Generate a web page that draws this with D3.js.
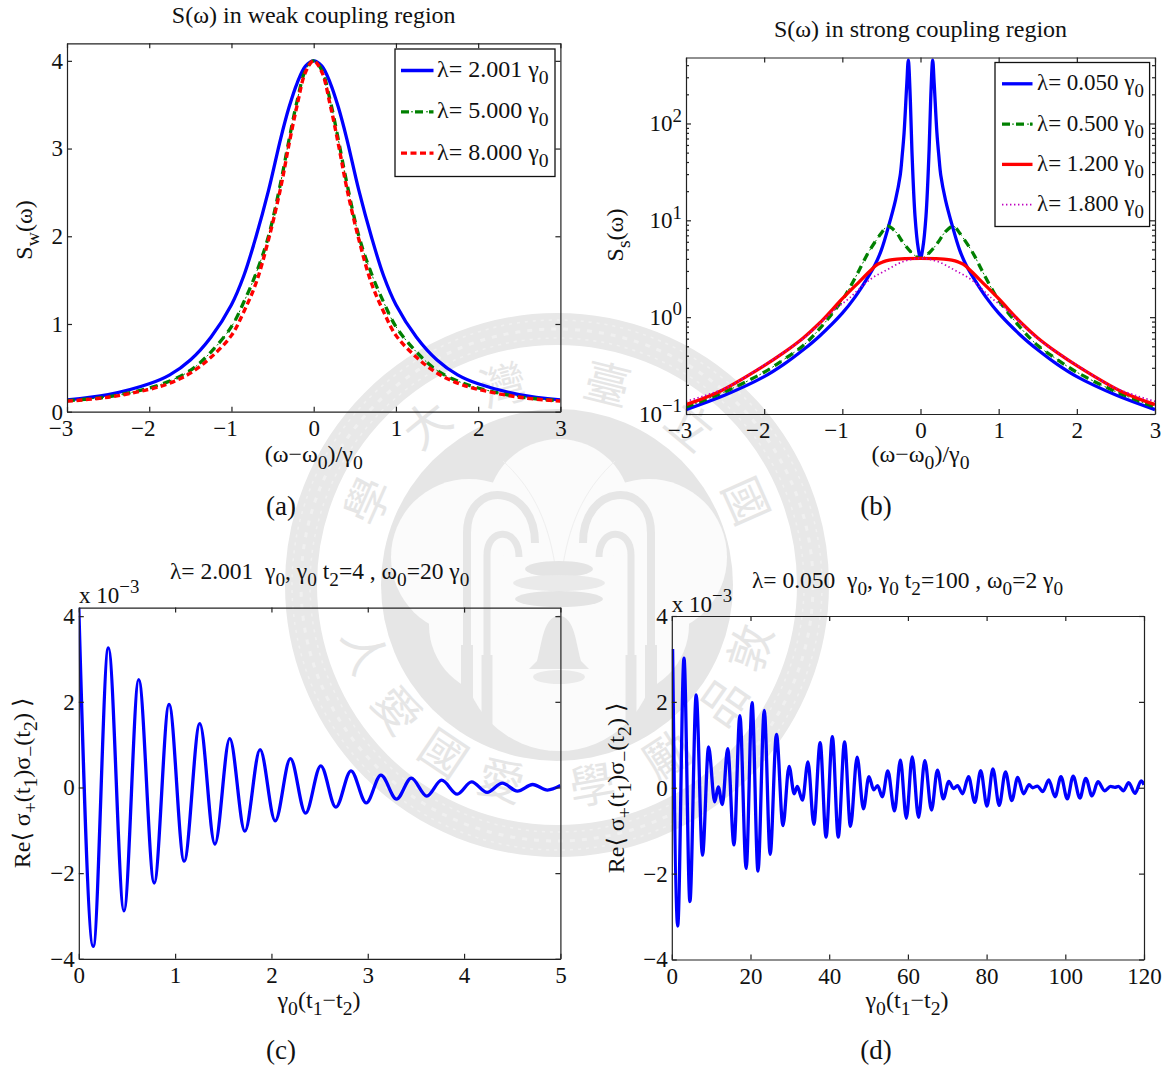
<!DOCTYPE html>
<html>
<head>
<meta charset="utf-8">
<script src="https://cdn.jsdelivr.net/npm/d3@7"></script>
<style>
    html, body { margin: 0; padding: 0; background: #fff; }
    text { font-family: "Liberation Serif", "DejaVu Serif", serif; fill: #111; white-space: pre; }
</style>
</head>
<body>
<svg id="fig" width="1173" height="1072"></svg>
<script>
// panel (a), weak coupling
var weakX = [-3,-2.5,-2,-1.75,-1.5,-1.25,-1,-0.85,-0.7,-0.55,-0.4,-0.3,-0.2,-0.1,0,0.1,0.2,0.3,0.4,0.55,0.7,0.85,1,1.25,1.5,1.75,2,2.5,3];
var weak2001 = [0.135,0.195,0.318,0.42,0.59,0.85,1.22,1.55,2.0,2.52,3.12,3.47,3.75,3.94,4,3.94,3.75,3.47,3.12,2.52,2.0,1.55,1.22,0.85,0.59,0.42,0.318,0.195,0.135];
var weak5000 = [0.125,0.17,0.27,0.35,0.47,0.68,0.97,1.25,1.58,2.0,2.62,3.1,3.55,3.89,4,3.89,3.55,3.1,2.62,2.0,1.58,1.25,0.97,0.68,0.47,0.35,0.27,0.17,0.125];
var weak8000 = [0.12,0.165,0.255,0.325,0.44,0.62,0.87,1.14,1.47,1.96,2.56,3.05,3.5,3.87,4,3.87,3.5,3.05,2.56,1.96,1.47,1.14,0.87,0.62,0.44,0.325,0.255,0.165,0.12];

// panel (b), strong coupling
var strongBlueX = [-3,-2.5,-2,-1.75,-1.5,-1.29,-1,-0.84,-0.69,-0.58,-0.5,-0.41,-0.32,-0.26,-0.235,-0.21,-0.175,-0.156,-0.13,-0.11,-0.07,-0.03,0,0.03,0.07,0.11,0.13,0.156,0.175,0.21,0.235,0.26,0.32,0.41,0.5,0.58,0.69,0.84,1,1.29,1.5,1.75,2,2.5,3];
var strong0050 = [0.111,0.157,0.243,0.325,0.46,0.64,1.1,1.6,2.45,3.5,4.95,8.6,16.2,29,46,80,260,450,174,53,11,5.2,4.05,5.2,11,53,174,450,260,80,46,29,16.2,8.6,4.95,3.5,2.45,1.6,1.1,0.64,0.46,0.325,0.243,0.157,0.111];
var strongGreenX = [-3,-2.5,-2,-1.75,-1.5,-1.29,-1,-0.907,-0.78,-0.67,-0.5,-0.42,-0.32,-0.22,-0.11,-0.03,0,0.03,0.11,0.22,0.32,0.42,0.5,0.67,0.78,0.907,1,1.29,1.5,1.75,2,2.5,3];
var strong0500 = [0.118,0.17,0.27,0.365,0.51,0.76,1.5,2.0,3.1,4.6,7.4,8.7,7.65,5.85,4.6,4.1,4.05,4.1,4.6,5.85,7.65,8.7,7.4,4.6,3.1,2.0,1.5,0.76,0.51,0.365,0.27,0.17,0.118];
var strongRedX = [-3,-2.57,-2,-1.75,-1.5,-1.29,-1,-0.8,-0.652,-0.55,-0.48,-0.4,-0.3,-0.2,0,0.2,0.3,0.4,0.48,0.55,0.652,0.8,1,1.29,1.5,1.75,2,2.57,3];
var strong1200 = [0.125,0.171,0.316,0.43,0.61,0.87,1.55,2.25,2.96,3.5,3.72,3.88,3.98,4.03,4.05,4.03,3.98,3.88,3.72,3.5,2.96,2.25,1.55,0.87,0.61,0.43,0.316,0.171,0.125];
var strongPurpleX = [-3,-2.5,-2,-1.5,-1.25,-1.09,-0.907,-0.652,-0.43,-0.22,0,0.22,0.43,0.652,0.907,1.09,1.25,1.5,2,2.5,3];
var strong1800 = [0.135,0.185,0.32,0.60,0.92,1.21,1.58,2.43,3.08,3.75,4.05,3.75,3.08,2.43,1.58,1.21,0.92,0.60,0.32,0.185,0.135];

// panel (c), extrema of the oscillation
var corrWeakX = [0,0.15,0.307,0.469,0.622,0.783,0.937,1.094,1.256,1.413,1.567,1.724,1.882,2.039,2.197,2.354,2.512,2.669,2.826,2.984,3.137,3.299,3.452,3.613,3.767,3.929,4.078,4.239,4.397,4.554,4.712,4.866,5];
var corrWeakY = [4.2,-3.71,3.26,-2.88,2.52,-2.23,1.94,-1.72,1.49,-1.32,1.14,-1.02,0.885,-0.78,0.676,-0.60,0.505,-0.46,0.39,-0.36,0.29,-0.27,0.22,-0.20,0.17,-0.155,0.13,-0.115,0.10,-0.085,0.07,-0.06,0.045];

// panel (d), extrema of the oscillation
var corrStrongX = [0.2,1.5,3.1,4.6,6.2,7.8,9.35,10.9,11.8,12.85,14.2,15.8,17.3,18.9,20.4,21.9,23.5,25,26.6,28.25,29.8,31.1,31.9,33.2,34.6,36.1,37.7,39.2,40.8,42.3,43.9,45.4,47.1,48.7,50.1,51.3,52.3,53.5,54.9,56.6,58.1,59.6,61.1,62.7,64.3,66,67.5,69,70.4,71.6,72.6,73.9,75.4,77,78.5,80.1,81.6,83.2,84.8,86.4,87.9,89.4,90.8,91.7,92.9,94.3,95.8,97.4,98.9,100.5,102,103.7,105.2,106.8,108.3,110,111.5,112.6,113.5,114.8,116.1,117.7,119.3,120];
var corrStrongY = [3.23,-3.22,3.02,-2.65,2.16,-1.57,0.95,-0.33,0.02,-0.39,0.91,-1.33,1.68,-1.88,1.98,-1.94,1.80,-1.55,1.24,-0.88,0.50,-0.14,0.03,-0.29,0.60,-0.85,1.05,-1.15,1.19,-1.15,1.07,-0.90,0.71,-0.49,0.26,-0.05,0.05,-0.21,0.39,-0.54,0.64,-0.71,0.72,-0.69,0.63,-0.52,0.41,-0.26,0.15,-0.02,0.05,-0.14,0.26,-0.34,0.40,-0.43,0.44,-0.41,0.37,-0.30,0.24,-0.14,0.07,0,0.04,-0.09,0.18,-0.21,0.26,-0.26,0.27,-0.24,0.22,-0.19,0.14,-0.07,0.03,0.01,0.03,-0.07,0.12,-0.13,0.16,0.07];

var specTicks = [-3,-2,-1,0,1,2,3];
var weakYTicks = [0,1,2,3,4];
var strongYTicks = [0.1,1,10,100];
var corrYTicks = [-4,-2,0,2,4];
var corrWeakTicks = [0,1,2,3,4,5];
var corrStrongTicks = [0,20,40,60,80,100,120];

var sealTop = [["國",66],["立",40],["臺",14],["灣",-15],["大",-39],["學",-66]];
var sealBottom = [["敦",108],["品",125],["勵",147],["學",170],["愛",-164],["國",-146],["愛",-128],["人",-109]];

var BLUE = "#0000ff", GREEN = "#008000", RED = "#ff0000", PURPLE = "#bf00bf";
var solidBlue = [{ color: BLUE, width: 3.3 }];
var solidRed = [{ color: RED, width: 3.3 }];
var dashRed = [{ color: RED, width: 3.4, dash: "6 3.5" }];
var dashGreen = [{ color: GREEN, width: 1, dash: "2 3" }, { color: GREEN, width: 3.3, dash: "8 6" }];
var dotPurple = [{ color: PURPLE, width: 1.7, dash: "1.4 2.6" }];

var svg = d3.select("#fig");
svg.append("rect").attr("width", 1173).attr("height", 1072).attr("fill", "#fff");

// little markup: _x is a subscript, ^x a superscript
function rich(sel, str, fs) {
    sel.text(null);
    var re = /([_^])(\{[^}]*\}|.)|([^_^]+)/g, m, back = 0;
    while ((m = re.exec(str)) !== null) {
        var span = sel.append("tspan");
        if (m[3]) {
            span.text(m[3]);
            if (back) span.attr("dy", back);
            back = 0;
        } else {
            var shift = m[1] == "_" ? 0.3 * fs : -0.42 * fs;
            span.text(m[2].replace(/[{}]/g, ""))
                .attr("font-size", fs * 0.82)
                .attr("dy", shift - back);
            back = -shift;
        }
    }
}

function label(g, x, y, str, fs, rotate) {
    var t = g.append("text")
        .attr("text-anchor", "middle")
        .attr("font-size", fs)
        .attr("transform", "translate(" + x + "," + y + ")" + (rotate ? " rotate(-90)" : ""));
    rich(t, str, fs);
    return t;
}

function drawLayers(g, d, path, layers) {
    layers.forEach(function(s) {
        g.append("path")
            .datum(d)
            .attr("d", path)
            .attr("fill", "none")
            .attr("stroke", s.color)
            .attr("stroke-width", s.width)
            .attr("stroke-dasharray", s.dash || null);
    });
}

function zipXY(xs, ys) {
    return xs.map(function(v, i) { return [v, ys[i]]; });
}

var clipCount = 0;

function panel(o) {
    var w = o.right - o.left, h = o.bottom - o.top;
    var x = d3.scaleLinear().domain(o.xDomain).range([0, w]);
    var y = (o.log ? d3.scaleLog() : d3.scaleLinear()).domain(o.yDomain).range([h, 0]);

    var g = svg.append("g").attr("transform", "translate(" + o.left + "," + o.top + ")");

    var id = "clip" + (clipCount++);
    g.append("clipPath").attr("id", id).append("rect").attr("width", w).attr("height", h);

    var line = d3.line()
        .x(function(d) { return x(d[0]); })
        .y(function(d) { return y(d[1]); })
        .curve(o.curve);

    var plot = g.append("g").attr("clip-path", "url(#" + id + ")");
    o.series.forEach(function(s) {
        drawLayers(plot, zipXY(s.x, s.y), line, s.style);
    });

    function styleAxis(a) {
        a.selectAll("path, line").attr("stroke", "#222").attr("stroke-width", 1.2);
        a.selectAll("text").attr("font-size", 23).attr("font-family", null).attr("fill", "#111");
    }

    var xFmt = d3.format("d");
    var bottom = g.append("g").attr("transform", "translate(0," + h + ")")
        .call(d3.axisBottom(x).tickValues(o.xTicks).tickFormat(xFmt)
            .tickSizeInner(-5).tickSizeOuter(0).tickPadding(8));
    styleAxis(bottom);
    // matlab centres the digit, not the minus sign
    bottom.selectAll("text").attr("dx", function(d) { return d < 0 ? "-0.28em" : null; });

    var top = g.append("g")
        .call(d3.axisTop(x).tickValues(o.xTicks).tickFormat("").tickSizeInner(-5).tickSizeOuter(0));
    styleAxis(top);

    var yFmt = o.log
        ? function() { return ""; }
        : d3.format("d");
    var left = g.append("g")
        .call(d3.axisLeft(y).tickValues(o.yTicks).tickFormat(yFmt)
            .tickSizeInner(-5).tickSizeOuter(0).tickPadding(4));
    styleAxis(left);

    var right = g.append("g").attr("transform", "translate(" + w + ",0)")
        .call(d3.axisRight(y).tickValues(o.yTicks).tickFormat("").tickSizeInner(-5).tickSizeOuter(0));
    styleAxis(right);

    if (o.log) {
        left.selectAll("text").each(function(d) {
            rich(d3.select(this), "10^{" + d3.format("d")(Math.log10(d)) + "}", 23);
        });
        var minor = [];
        [0.1, 1, 10, 100].forEach(function(dec) {
            [2, 3, 4, 5, 6, 7, 8, 9].forEach(function(k) {
                if (k * dec < o.yDomain[1]) minor.push(k * dec);
            });
        });
        var lm = g.append("g").call(d3.axisLeft(y).tickValues(minor).tickFormat("").tickSizeInner(-3).tickSizeOuter(0));
        var rm = g.append("g").attr("transform", "translate(" + w + ",0)")
            .call(d3.axisRight(y).tickValues(minor).tickFormat("").tickSizeInner(-3).tickSizeOuter(0));
        styleAxis(lm); styleAxis(rm);
        lm.select(".domain").remove();
        rm.select(".domain").remove();
    }

    if (o.legend) {
        var lg = svg.append("g");
        var L = o.legend;
        lg.append("rect")
            .attr("x", L.x).attr("y", L.y)
            .attr("width", L.w).attr("height", L.h)
            .attr("fill", "#fff").attr("stroke", "#111").attr("stroke-width", 1.3);
        var legendLine = d3.line();
        o.series.forEach(function(s, i) {
            var cy = L.firstRow + i * L.rowStep;
            drawLayers(lg, [[L.lineX0, cy], [L.lineX1, cy]], legendLine, s.style);
            var t = lg.append("text")
                .attr("x", L.textX)
                .attr("y", cy + 6.5)
                .attr("font-size", L.fs);
            rich(t, "λ= " + s.name + " γ_0", L.fs);
        });
    }
}

function drawSeal() {
    var cx = 557, cy = 585;
    var seal = svg.append("g").attr("transform", "translate(" + cx + "," + cy + ")");
    var gray = "#e6e6e6";

    seal.append("circle").attr("r", 256).attr("fill", "none").attr("stroke", "#e8e8e8").attr("stroke-width", 32);
    seal.append("circle").attr("r", 256).attr("fill", "none").attr("stroke", "#f0f0f0").attr("stroke-width", 3).attr("stroke-dasharray", "5 7");
    seal.append("circle").attr("r", 247).attr("fill", "none").attr("stroke", "#f0f0f0").attr("stroke-width", 1.5).attr("stroke-dasharray", "3 5");
    seal.append("circle").attr("r", 265).attr("fill", "none").attr("stroke", "#f0f0f0").attr("stroke-width", 1.5).attr("stroke-dasharray", "3 5");

    seal.append("circle").attr("r", 176).attr("fill", gray);
    // the plum blossom
    [[2, -74, 72], [-88, -28, 78], [92, -28, 78], [2, 70, 96], [-58, 40, 70], [62, 40, 70]].forEach(function(p) {
        seal.append("circle").attr("cx", p[0]).attr("cy", p[1]).attr("r", p[2]).attr("fill", "#fbfbfb");
    });

    // fountain arches, mirrored about the axis
    [1, -1].forEach(function(side) {
        var a = seal.append("g").attr("transform", "translate(2,0) scale(" + side + ",1)")
            .attr("fill", "none").attr("stroke", "#e6e6e6");
        a.append("path").attr("d", "M-92,140 V-52 C-92,-106 -24,-102 -24,-42").attr("stroke-width", 8);
        a.append("path").attr("d", "M-72,150 V-30 C-72,-58 -40,-58 -40,-28").attr("stroke-width", 7);
        a.append("path").attr("d", "M-92,120 V60").attr("stroke-width", 12);
        a.append("path").attr("d", "M-72,140 V70").attr("stroke-width", 11);
        a.append("path").attr("d", "M-4,-20 C-12,-70 -30,-100 -56,-124").attr("stroke-width", 1).attr("stroke", "#efefef");
    });
    seal.append("ellipse").attr("cx", 2).attr("cy", -16).attr("rx", 34).attr("ry", 8).attr("fill", "#e4e4e4");
    seal.append("ellipse").attr("cx", 2).attr("cy", -2).attr("rx", 46).attr("ry", 8).attr("fill", "#eaeaea");
    seal.append("ellipse").attr("cx", 2).attr("cy", 14).attr("rx", 44).attr("ry", 8).attr("fill", "#e4e4e4");
    seal.append("path")
        .attr("d", "M2,30 C-14,34 -14,54 -20,76 L-28,84 H32 L24,76 C18,54 18,34 2,30 Z")
        .attr("fill", "#e6e6e6");
    seal.append("ellipse").attr("cx", 2).attr("cy", 92).attr("rx", 26).attr("ry", 7).attr("fill", "#eaeaea");

    var chars = seal.append("g")
        .attr("text-anchor", "middle");
    sealTop.forEach(function(c) {
        chars.append("text")
            .text(c[0])
            .attr("font-size", 46)
            .style("font-family", '"Noto Sans CJK TC"')
            .style("fill", "#e6e6e6")
            .attr("transform", "rotate(" + c[1] + ") translate(0,-190)");
    });
    sealBottom.forEach(function(c) {
        chars.append("text")
            .text(c[0])
            .attr("font-size", 46)
            .style("font-family", '"Noto Sans CJK TC"')
            .style("fill", "#e6e6e6")
            .attr("transform", "rotate(" + c[1] + ") translate(0,-190) rotate(180) translate(0,30)");
    });
}

drawSeal();

var smooth = d3.curveCatmullRom.alpha(0.5);

panel({
    left: 67, right: 560.4, top: 43.3, bottom: 411.7,
    curve: smooth,
    xDomain: [-3, 3], yDomain: [0, 4.2],
    xTicks: specTicks, yTicks: weakYTicks,
    series: [
        { name: "2.001", x: weakX, y: weak2001, style: solidBlue },
        { name: "5.000", x: weakX, y: weak5000, style: dashGreen },
        { name: "8.000", x: weakX, y: weak8000, style: dashRed }
    ],
    legend: { x: 395, y: 49, w: 160, h: 127.5, firstRow: 70.5, rowStep: 41.3, lineX0: 401, lineX1: 433.5, textX: 437, fs: 24 }
});

panel({
    left: 686, right: 1155, top: 57.5, bottom: 414,
    log: true,
    curve: smooth,
    xDomain: [-3, 3], yDomain: [0.1, 480],
    xTicks: specTicks, yTicks: strongYTicks,
    series: [
        { name: "0.050", x: strongBlueX, y: strong0050, style: solidBlue },
        { name: "0.500", x: strongGreenX, y: strong0500, style: dashGreen },
        { name: "1.200", x: strongRedX, y: strong1200, style: solidRed },
        { name: "1.800", x: strongPurpleX, y: strong1800, style: dotPurple }
    ],
    legend: { x: 995, y: 62.5, w: 154.6, h: 164, firstRow: 83.8, rowStep: 40.3, lineX0: 1002, lineX1: 1032.5, textX: 1037, fs: 23 }
});

panel({
    left: 78.8, right: 560.4, top: 607.6, bottom: 958.8,
    curve: d3.curveMonotoneX,
    xDomain: [0, 5], yDomain: [-4, 4.2],
    xTicks: corrWeakTicks, yTicks: corrYTicks,
    series: [{ x: corrWeakX, y: corrWeakY, style: solidBlue }]
});

panel({
    left: 671.8, right: 1144, top: 616, bottom: 959.5,
    curve: d3.curveMonotoneX,
    xDomain: [0, 120], yDomain: [-4, 4],
    xTicks: corrStrongTicks, yTicks: corrYTicks,
    series: [{ x: corrStrongX, y: corrStrongY, style: solidBlue }]
});

// titles, axis labels, captions
var notes = svg.append("g");
label(notes, 313.7, 23, "S(ω) in weak coupling region", 24);
label(notes, 313.7, 462, "(ω−ω_0)/γ_0", 24);
label(notes, 32, 230, "S_w(ω)", 24, true);
label(notes, 281, 515, "(a)", 27);

label(notes, 920.5, 37, "S(ω) in strong coupling region", 24);
label(notes, 920.5, 462, "(ω−ω_0)/γ_0", 24);
label(notes, 623, 235, "S_s(ω)", 24, true);
label(notes, 876, 515, "(b)", 27);

label(notes, 319.6, 579, "λ= 2.001  γ_0, γ_0 t_2=4 , ω_0=20 γ_0", 23.5);
label(notes, 319, 1007.7, "γ_0(t_1−t_2)", 24);
label(notes, 29.6, 783, "Re⟨ σ_+(t_1)σ_−(t_2) ⟩", 24, true);
label(notes, 281, 1059, "(c)", 27);
rich(notes.append("text").attr("x", 79).attr("y", 602.6).attr("font-size", 23), "x 10^{−3}", 23);

label(notes, 907.5, 587.6, "λ= 0.050  γ_0, γ_0 t_2=100 , ω_0=2 γ_0", 23.5);
label(notes, 907, 1007.7, "γ_0(t_1−t_2)", 24);
label(notes, 623.5, 788, "Re⟨ σ_+(t_1)σ_−(t_2) ⟩", 24, true);
label(notes, 876, 1059, "(d)", 27);
rich(notes.append("text").attr("x", 671.8).attr("y", 611.6).attr("font-size", 23), "x 10^{−3}", 23);
</script>
</body>
</html>
